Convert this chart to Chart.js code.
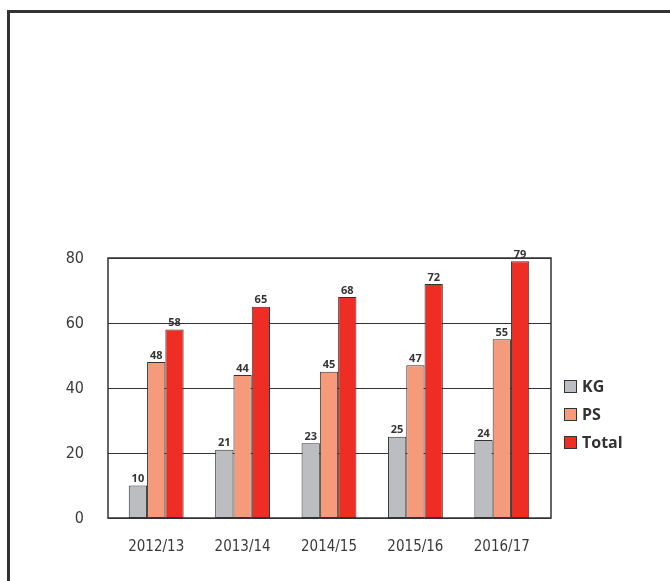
<!DOCTYPE html>
<html>
<head>
<meta charset="utf-8">
<script src="https://cdn.jsdelivr.net/npm/chart.js@4.4.0/dist/chart.umd.min.js"></script>
<style>
  body { margin: 0; background: #fff; }
  #frame { position: absolute; left: 7px; top: 10px; width: 700px; height: 600px;
           border-top: 3px solid #333; border-left: 3px solid #333; }
  #wrap { position: absolute; left: 0; top: 0; width: 670px; height: 581px; }
</style>
</head>
<body>
<div id="frame"></div>
<div id="wrap"><canvas id="chart" width="670" height="581"></canvas></div>
<script>
// data
const seasons = ['2012/13', '2013/14', '2014/15', '2015/16', '2016/17']
const kg = [10, 21, 23, 25, 24]
const ps = [48, 44, 45, 47, 55]
const total = [58, 65, 68, 72, 79]
const seriesNames = ['KG', 'PS', 'Total']
const yTicks = [0, 20, 40, 60, 80]

const colors = ['#bcbdc1', '#f59a7b', '#ee2e24']
const narrow = "'DejaVu Sans Condensed', 'Liberation Sans Narrow', sans-serif"

// plot frame is a bit wider than the category band
const frameLeft = 5
const frameRight = 6

// grid lines + box behind the bars
const plotBox = {
    id: 'plotBox',
    beforeDatasetsDraw(chart){
        const ctx = chart.ctx
        const a = chart.chartArea
        const y = chart.scales.y
        const l = a.left - frameLeft
        const r = a.right + frameRight
        ctx.save()
        ctx.strokeStyle = '#333'
        ctx.lineWidth = 1
        yTicks.forEach(function(v){
            const py = Math.round(y.getPixelForValue(v)) + 0.5
            ctx.beginPath()
            ctx.moveTo(l, py)
            ctx.lineTo(r, py)
            ctx.stroke()
        })
        ctx.lineWidth = 1.5
        ctx.strokeRect(l, a.top, r - l, a.bottom - a.top)
        ctx.restore()
    }
}

// value labels above every bar
const valueLabels = {
    id: 'valueLabels',
    afterDatasetsDraw(chart){
        const ctx = chart.ctx
        ctx.save()
        ctx.font = "bold 11px 'Open Sans', sans-serif"
        ctx.fillStyle = '#333'
        ctx.textAlign = 'center'
        ctx.textBaseline = 'bottom'
        chart.data.datasets.forEach(function(ds, i){
            chart.getDatasetMeta(i).data.forEach(function(bar, j){
                ctx.fillText(ds.data[j], bar.x, bar.y - 1)
            })
        })
        ctx.restore()
    }
}

// legend on the right
const sideLegend = {
    id: 'sideLegend',
    afterDraw(chart){
        const ctx = chart.ctx
        const a = chart.chartArea
        ctx.save()
        ctx.font = "bold 16px 'Open Sans', sans-serif"
        ctx.textBaseline = 'middle'
        ctx.textAlign = 'left'
        chart.data.datasets.forEach(function(ds, i){
            const x = a.right + 19
            const y = a.top + 122 + i * 28
            ctx.fillStyle = ds.backgroundColor
            ctx.fillRect(x, y, 13, 13)
            ctx.strokeStyle = '#333'
            ctx.lineWidth = 1
            ctx.strokeRect(x + 0.5, y + 0.5, 12, 12)
            ctx.fillStyle = '#333'
            ctx.fillText(ds.label, x + 18, y + 7)
        })
        ctx.restore()
    }
}

const ctx = document.getElementById('chart').getContext('2d')
const myChart = new Chart(ctx, {
    type: 'bar',
    data: {
        labels: seasons,
        datasets: [kg, ps, total].map(function(d, i){
            return {
                label: seriesNames[i],
                data: d,
                backgroundColor: colors[i],
                borderColor: '#333',
                borderWidth: 1,
                borderSkipped: false,
                categoryPercentage: 0.635,
                barPercentage: 1
            }
        })
    },
    options: {
        responsive: false,
        animation: false,
        layout: { padding: { top: 258, right: 125, bottom: 23, left: 0 } },
        plugins: {
            legend: { display: false },
            tooltip: { enabled: false }
        },
        scales: {
            x: {
                grid: { display: false },
                border: { display: false },
                ticks: { color: '#3a3a3a', font: { family: narrow, size: 15 }, padding: 12 },
                afterFit(scale){ scale.height = 40 }
            },
            y: {
                min: 0,
                max: 80,
                afterBuildTicks(scale){ scale.ticks = yTicks.map(v => ({ value: v })) },
                grid: { display: false },
                border: { display: false },
                ticks: { color: '#3a3a3a', font: { family: narrow, size: 16 }, padding: 21, labelOffset: 1 },
                afterFit(scale){ scale.width = 113 }
            }
        }
    },
    plugins: [plotBox, valueLabels, sideLegend]
})
</script>
</body>
</html>
